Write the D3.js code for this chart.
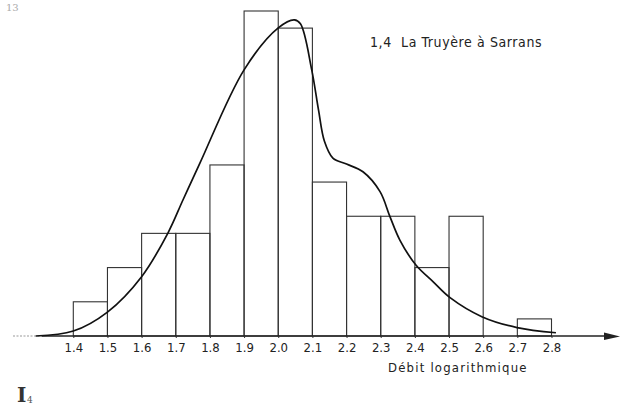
<!DOCTYPE html>
<html>
<head>
<meta charset="utf-8">
<script src="https://cdn.jsdelivr.net/npm/d3@7"></script>
<style>
  body { margin: 0; background: #fff; }
  svg { display: block; }
</style>
</head>
<body>
<div id="graph"></div>
<script>
// classes of the histogram (lower bound of each 0.1 wide class) and their counts
const binStart = [1.4, 1.5, 1.6, 1.7, 1.8, 1.9, 2.0, 2.1, 2.2, 2.3, 2.4, 2.5, 2.6, 2.7];
const counts   = [2,   4,   6,   6,   10,  19,  18,  9,   7,   7,   4,   7,   0,   1];
const tickLabels = ['1.4','1.5','1.6','1.7','1.8','1.9','2.0','2.1','2.2','2.3','2.4','2.5','2.6','2.7','2.8'];

// fitted curve
const curveX = [1.29, 1.40, 1.50, 1.60, 1.677, 1.721, 1.771, 1.90, 2.00, 2.047, 2.065, 2.098, 2.118, 2.135, 2.16, 2.20, 2.248, 2.298, 2.327, 2.356, 2.403, 2.453, 2.503, 2.596, 2.699, 2.813];
const curveY = [0,    0.29, 1.40, 3.47, 6.02,  7.95,  10.12, 15.56, 18.01, 18.48, 18.25, 15.56, 13.2,  11.4,  10.4, 10.05, 9.6,  8.44,  6.98,  5.61,  4.15,  3.18,  2.24,  1.13,  0.49,  0.19];

const title = '1,4\u00a0\u00a0La Truyère à Sarrans';
const xTitle = 'Débit logarithmique';

let w = 622, h = 413;
let base = 336;

let svg = d3.select('#graph')
    .append('svg')
    .attr('width', w)
    .attr('height', h);

let x = d3.scaleLinear().domain([1.4, 2.8]).range([73.3, 551.5]);
let y = d3.scaleLinear().domain([0, 19]).range([base, 11]);

// bars
svg.selectAll('rect')
    .data(binStart.map((d, i) => ({x0: d, n: counts[i]})).filter(d => d.n > 0))
    .enter()
    .append('rect')
    .attr('x', d => x(d.x0))
    .attr('y', d => y(d.n))
    .attr('width', d => x(d.x0 + 0.1) - x(d.x0))
    .attr('height', d => base - y(d.n))
    .attr('fill', 'none')
    .attr('stroke', '#333')
    .attr('stroke-width', 1.1);

// base line with arrow
svg.append('line')
    .attr('x1', 13).attr('x2', 42).attr('y1', base).attr('y2', base)
    .attr('stroke', '#999').attr('stroke-width', 1.2).attr('stroke-dasharray', '2,1.5');
svg.append('line')
    .attr('x1', 42).attr('x2', 608).attr('y1', base).attr('y2', base)
    .attr('stroke', '#222').attr('stroke-width', 1.4);
svg.append('path')
    .attr('d', `M604,${base - 3.5} L620,${base + 0.5} L604,${base + 4} Z`)
    .attr('fill', '#222');

// ticks and labels
let axis = d3.axisBottom(x)
    .tickValues(tickLabels.map(Number))
    .tickFormat((d, i) => tickLabels[i])
    .tickSize(2)
    .tickPadding(5);
let g = svg.append('g')
    .attr('transform', `translate(0,${base})`)
    .call(axis);
g.select('.domain').remove();
g.selectAll('line').attr('stroke', '#333');
g.selectAll('text')
    .attr('font-family', 'DejaVu Sans Condensed, DejaVu Sans')
    .attr('font-size', 13)
    .attr('fill', '#222');

// curve
let line = d3.line()
    .x((d, i) => x(d))
    .y((d, i) => y(curveY[i]))
    .curve(d3.curveCatmullRom.alpha(0.5));
svg.append('path')
    .attr('d', line(curveX))
    .attr('fill', 'none')
    .attr('stroke', '#111')
    .attr('stroke-width', 1.7);

// texts
svg.append('text')
    .text(title)
    .attr('x', 370).attr('y', 47)
    .attr('font-family', 'DejaVu Sans Condensed, DejaVu Sans')
    .attr('font-size', 14)
    .attr('letter-spacing', 0.6)
    .attr('fill', '#222');

svg.append('text')
    .text(xTitle)
    .attr('x', 388).attr('y', 372)
    .attr('font-family', 'DejaVu Sans Condensed, DejaVu Sans')
    .attr('font-size', 13)
    .attr('letter-spacing', 1.2)
    .attr('fill', '#222');

// scan marks in the margins
svg.append('text')
    .text('I')
    .attr('x', 17).attr('y', 402)
    .attr('font-family', 'DejaVu Serif')
    .attr('font-weight', 'bold')
    .attr('font-size', 20)
    .attr('fill', '#333');
svg.append('text')
    .text('4')
    .attr('x', 27).attr('y', 403)
    .attr('font-family', 'DejaVu Serif')
    .attr('font-size', 9)
    .attr('fill', '#555');
svg.append('text')
    .text('13')
    .attr('x', 6).attr('y', 11)
    .attr('font-family', 'DejaVu Serif')
    .attr('font-size', 10)
    .attr('fill', '#aaa');
</script>
</body>
</html>
